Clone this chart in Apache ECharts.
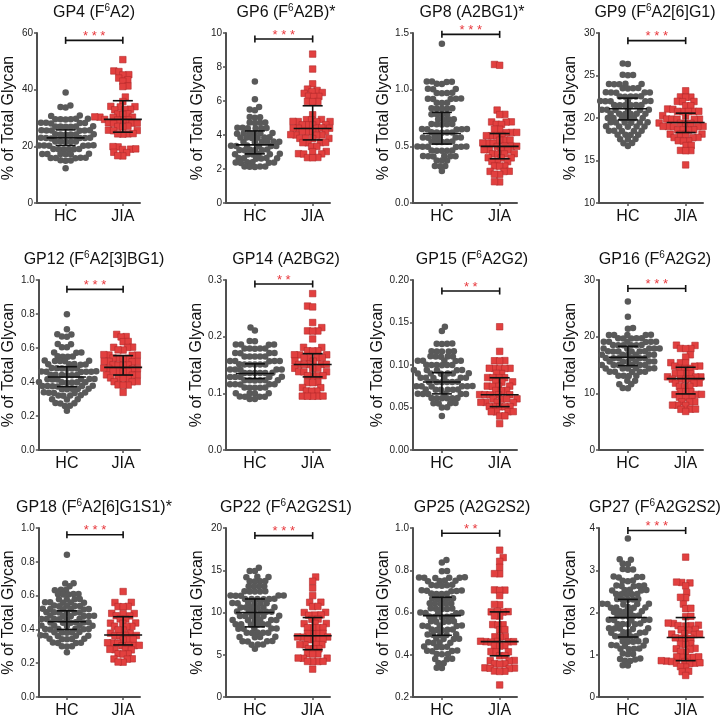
<!DOCTYPE html>
<html>
<head>
<meta charset="utf-8">
<title>Glycan peaks HC vs JIA</title>
<script src="https://cdn.jsdelivr.net/npm/echarts@6/dist/echarts.min.js"></script>
<style>
  html, body { margin: 0; padding: 0; background: #fff; }
  #main { width: 722px; height: 719px; }
</style>
</head>
<body>
<div id="main"></div>
<script>
// panels go left to right, top to bottom; "^6" marks the superscript
var titles = ['GP4 (F^6A2)', 'GP6 (F^6A2B)*', 'GP8 (A2BG1)*', 'GP9 (F^6A2[6]G1)',
  'GP12 (F^6A2[3]BG1)', 'GP14 (A2BG2)', 'GP15 (F^6A2G2)', 'GP16 (F^6A2G2)',
  'GP18 (F^6A2[6]G1S1)*', 'GP22 (F^6A2G2S1)', 'GP25 (A2G2S2)', 'GP27 (F^6A2G2S2)']
var groups = ['HC', 'JIA']
var yName = '% of Total Glycan'

// axis ticks
var yMin = [0, 0, 0, 10, 0, 0, 0, 0, 0, 0, 0.2, 0]
var yMax = [60, 10, 1.5, 30, 1, 0.3, 0.2, 30, 1, 20, 1, 4]
var yStep = [20, 2, 0.5, 5, 0.2, 0.1, 0.05, 10, 0.2, 5, 0.2, 1]
var yDigits = [0, 0, 1, 0, 1, 1, 2, 0, 1, 0, 1, 0]

// significance
var stars = ['***', '***', '***', '***', '***', '**', '**', '***', '***', '***', '**', '***']
var bracketY = [57.4, 9.65, 1.488, 29.1, 0.945, 0.293, 0.187, 28.5, 0.96, 19.1, 0.975, 3.94]

// median and interquartile range
var hcMed = [23.0, 3.42, 0.613, 21.08, 0.429, 0.135, 0.080, 16.35, 0.445, 10.0, 0.585, 1.88]
var hcQ1 = [20.3, 2.89, 0.52, 19.78, 0.373, 0.126, 0.066, 14.9, 0.40, 8.3, 0.492, 1.42]
var hcQ3 = [25.8, 4.24, 0.80, 22.34, 0.49, 0.152, 0.091, 18.3, 0.51, 11.6, 0.672, 2.31]
var jiaMed = [29.5, 4.38, 0.50, 19.47, 0.486, 0.151, 0.065, 12.6, 0.367, 7.25, 0.462, 1.41]
var jiaQ1 = [25.0, 3.71, 0.39, 18.29, 0.441, 0.129, 0.051, 9.9, 0.308, 5.6, 0.395, 0.86]
var jiaQ3 = [36.1, 5.72, 0.613, 20.57, 0.555, 0.17, 0.085, 14.6, 0.475, 9.4, 0.603, 1.88]

// individual samples
var hcGP4 = [39.0, 34.4, 33.9, 33.7, 30.9, 30.7, 29.7, 29.6, 29.6, 29.5, 29.7, 29.6, 28.3, 28.2, 28.1, 28.2, 28.3,
  27.0, 27.1, 26.9, 27.0, 27.0, 26.9, 25.7, 25.6, 25.6, 25.5, 25.7, 25.6, 24.2, 24.3, 24.1, 24.2, 24.2, 24.3,
  22.9, 23.0, 22.8, 22.9, 22.9, 23.0, 21.7, 21.8, 21.6, 21.7, 21.7, 21.6, 20.3, 20.4, 20.2, 20.3, 20.3, 20.2,
  19.0, 19.1, 18.9, 19.0, 19.0, 19.1, 17.3, 17.4, 17.2, 17.3, 17.3, 17.2, 15.9, 16.0, 15.8, 15.9, 16.0,
  15.0, 15.1, 14.9, 12.3]
var jiaGP4 = [50.6, 46.6, 46.4, 45.3, 45.2, 44.1, 43.5, 43.0, 41.3, 41.1, 37.4, 35.8, 34.1, 34.0, 33.9,
  33.1, 33.0, 32.9, 31.5, 31.4, 31.3, 30.3, 30.4, 30.2, 30.3, 30.4, 29.4, 29.5, 29.3, 29.4, 29.5, 29.3,
  28.2, 28.3, 28.1, 28.2, 27.0, 27.1, 26.9, 25.6, 25.7, 25.5, 24.4, 24.5, 24.3, 24.4, 19.8, 19.9,
  19.0, 19.1, 18.9, 17.8, 17.9, 16.6, 16.7]

var hcGP6 = [7.15, 6.1, 5.64, 5.5, 5.46, 5.05, 5.02, 5.06, 4.73, 4.72, 4.74, 4.71,
  4.42, 4.4, 4.41, 4.39, 4.4, 4.42, 4.1, 4.11, 4.09, 4.1, 4.12, 4.08, 3.85, 3.86, 3.84, 3.85, 3.87, 3.83,
  3.6, 3.61, 3.59, 3.6, 3.62, 3.58, 3.36, 3.37, 3.35, 3.36, 3.38, 3.34, 3.12, 3.13, 3.11, 3.12, 3.14, 3.1,
  2.87, 2.88, 2.86, 2.87, 2.89, 2.85, 2.63, 2.64, 2.62, 2.63, 2.65, 2.61, 2.38, 2.39, 2.37, 2.38, 2.4, 2.36,
  2.14, 2.15, 2.13, 2.14, 2.12]
var jiaGP6 = [8.76, 7.88, 7.01, 6.7, 6.62, 6.55, 6.5, 6.45, 6.27, 6.28, 6.26, 5.97, 5.98, 5.96, 5.19,
  4.9, 4.91, 4.89, 4.79, 4.8, 4.78, 4.79, 4.6, 4.61, 4.59, 4.6, 4.4, 4.41, 4.39, 4.4, 4.42,
  4.2, 4.21, 4.19, 4.2, 4.0, 4.01, 3.99, 4.0, 4.02, 3.8, 3.81, 3.79, 3.8, 3.55, 3.56, 3.54, 3.55,
  3.32, 3.33, 3.03, 3.04, 3.02, 2.89, 2.9, 2.88, 2.67, 2.68, 2.66]

var hcGP8 = [1.405, 1.073, 1.07, 1.072, 1.068, 1.053, 1.05, 1.006, 1.004, 1.008, 0.97, 0.972, 0.968, 0.971,
  0.919, 0.92, 0.918, 0.921, 0.917, 0.884, 0.885, 0.883, 0.834, 0.835, 0.833, 0.836, 0.832,
  0.782, 0.783, 0.781, 0.784, 0.738, 0.739, 0.737, 0.74, 0.695, 0.696, 0.694, 0.697, 0.693,
  0.651, 0.652, 0.65, 0.653, 0.649, 0.622, 0.623, 0.621, 0.624, 0.62, 0.578, 0.579, 0.577, 0.58, 0.576, 0.578,
  0.54, 0.541, 0.539, 0.542, 0.538, 0.497, 0.498, 0.496, 0.499, 0.495, 0.497, 0.462, 0.463, 0.461, 0.464, 0.46,
  0.413, 0.414, 0.412, 0.415, 0.411, 0.413, 0.375, 0.376, 0.374, 0.326, 0.327, 0.325, 0.282]
var jiaGP8 = [1.222, 1.215, 0.82, 0.782, 0.78, 0.715, 0.716, 0.714, 0.695, 0.694, 0.651, 0.652,
  0.622, 0.621, 0.623, 0.593, 0.594, 0.592, 0.595, 0.555, 0.556, 0.554, 0.529, 0.53, 0.528, 0.531,
  0.5, 0.501, 0.499, 0.502, 0.468, 0.469, 0.467, 0.47, 0.433, 0.434, 0.432, 0.435, 0.398, 0.399, 0.397,
  0.366, 0.367, 0.365, 0.326, 0.327, 0.325, 0.279, 0.28, 0.278, 0.253, 0.254, 0.186, 0.188]

var hcGP9 = [26.42, 26.35, 25.05, 25.08, 25.02, 23.99, 24.0, 23.98, 24.02, 23.97, 23.5, 23.52, 23.48, 23.51,
  23.0, 23.02, 22.98, 23.01, 22.99, 22.53, 22.55, 22.51, 22.54, 22.52, 21.98, 22.0, 21.96, 21.99, 21.97, 22.01,
  21.51, 21.53, 21.49, 21.52, 21.5, 21.54, 20.96, 20.98, 20.94, 20.97, 20.95, 20.99,
  20.49, 20.51, 20.47, 20.5, 20.48, 20.52, 19.98, 20.0, 19.96, 19.99, 19.97, 20.01,
  19.47, 19.49, 19.45, 19.48, 19.46, 19.5, 19.0, 19.02, 18.98, 19.01, 18.99, 18.49, 18.51, 18.47, 18.5, 18.48,
  18.02, 18.04, 18.0, 18.03, 17.5, 17.52, 17.48, 17.03, 17.05, 16.7]
var jiaGP9 = [23.2, 22.46, 22.48, 22.44, 21.94, 21.96, 21.92, 21.43, 21.45, 21.04, 21.06, 21.02,
  20.77, 20.79, 20.75, 20.78, 20.76, 20.26, 20.28, 20.24, 20.27, 19.86, 19.88, 19.84, 19.87, 19.85,
  19.39, 19.41, 19.37, 19.4, 19.38, 19.0, 19.02, 18.98, 19.01, 18.99, 18.6, 18.62, 18.58, 18.61,
  18.09, 18.11, 18.07, 18.1, 17.7, 17.72, 17.68, 17.31, 17.33, 17.29, 16.76, 16.78, 16.17, 16.19, 16.15, 14.48]

var hcGP12 = [0.798, 0.71, 0.68, 0.681, 0.667, 0.666, 0.622, 0.623, 0.604, 0.605, 0.573, 0.574, 0.572,
  0.549, 0.55, 0.548, 0.551, 0.524, 0.525, 0.523, 0.526, 0.522, 0.504, 0.505, 0.503, 0.506, 0.502,
  0.48, 0.481, 0.479, 0.482, 0.478, 0.48, 0.461, 0.462, 0.46, 0.463, 0.459, 0.461,
  0.441, 0.442, 0.44, 0.443, 0.439, 0.441, 0.416, 0.417, 0.415, 0.418, 0.414, 0.416,
  0.398, 0.399, 0.397, 0.4, 0.396, 0.398, 0.376, 0.377, 0.375, 0.378, 0.374, 0.376,
  0.359, 0.36, 0.358, 0.361, 0.357, 0.337, 0.338, 0.336, 0.339, 0.335, 0.32, 0.321, 0.319, 0.322,
  0.298, 0.299, 0.297, 0.275, 0.276, 0.274, 0.259, 0.26, 0.231]
var jiaGP12 = [0.68, 0.667, 0.665, 0.637, 0.638, 0.604, 0.605, 0.603, 0.588, 0.589,
  0.559, 0.56, 0.558, 0.561, 0.557, 0.539, 0.54, 0.538, 0.541, 0.52, 0.521, 0.519, 0.522,
  0.5, 0.501, 0.499, 0.502, 0.498, 0.48, 0.481, 0.479, 0.482, 0.478, 0.461, 0.462, 0.46, 0.463,
  0.441, 0.442, 0.44, 0.443, 0.422, 0.423, 0.421, 0.424, 0.402, 0.403, 0.401, 0.382, 0.383, 0.381, 0.339]

var hcGP14 = [0.216, 0.211, 0.192, 0.1922, 0.186, 0.1862, 0.1858, 0.1861, 0.179, 0.1792, 0.1788, 0.1791, 0.1789,
  0.171, 0.1712, 0.1708, 0.1711, 0.165, 0.1652, 0.1648, 0.1651, 0.1649, 0.157, 0.1572, 0.1568, 0.1571, 0.1569, 0.157,
  0.151, 0.1512, 0.1508, 0.1511, 0.1509, 0.151, 0.142, 0.1422, 0.1418, 0.1421, 0.1419, 0.142,
  0.136, 0.1362, 0.1358, 0.1361, 0.1359, 0.136, 0.129, 0.1292, 0.1288, 0.1291, 0.1289, 0.129,
  0.123, 0.1232, 0.1228, 0.1231, 0.1229, 0.123, 0.116, 0.1162, 0.1158, 0.1161, 0.1159,
  0.11, 0.1102, 0.1098, 0.1101, 0.1099, 0.1, 0.1002, 0.0998, 0.1001, 0.094, 0.0942, 0.0938, 0.0941, 0.09, 0.0902]
var jiaGP14 = [0.276, 0.254, 0.2525, 0.225, 0.216, 0.21, 0.2102, 0.2098, 0.196, 0.181, 0.1812,
  0.175, 0.1752, 0.1748, 0.168, 0.1682, 0.1678, 0.1681, 0.163, 0.1632, 0.1628, 0.1631,
  0.157, 0.1572, 0.1568, 0.1571, 0.151, 0.1512, 0.1508, 0.1511, 0.1509, 0.144, 0.1442, 0.1438, 0.1441,
  0.138, 0.1382, 0.1378, 0.131, 0.1312, 0.1308, 0.1311, 0.119, 0.1192, 0.1188, 0.11, 0.1102,
  0.104, 0.1042, 0.1038, 0.095, 0.0952, 0.0948, 0.0951, 0.0949]

var hcGP15 = [0.145, 0.14, 0.125, 0.1252, 0.1248, 0.1251, 0.116, 0.1162, 0.1158, 0.1161, 0.1159,
  0.11, 0.1102, 0.1098, 0.1101, 0.1099, 0.105, 0.1052, 0.1048, 0.1051, 0.1049,
  0.1, 0.1002, 0.0998, 0.1001, 0.0999, 0.1, 0.094, 0.0942, 0.0938, 0.0941, 0.0939,
  0.09, 0.0902, 0.0898, 0.0901, 0.0899, 0.09, 0.085, 0.0852, 0.0848, 0.0851, 0.0849, 0.085,
  0.08, 0.0802, 0.0798, 0.0801, 0.0799, 0.08, 0.075, 0.0752, 0.0748, 0.0751, 0.0749, 0.075,
  0.071, 0.0712, 0.0708, 0.0711, 0.0709, 0.071, 0.066, 0.0662, 0.0658, 0.0661, 0.0659, 0.066,
  0.061, 0.0612, 0.0608, 0.0611, 0.0609, 0.061, 0.055, 0.0552, 0.0548, 0.0551, 0.05, 0.0502, 0.04]
var jiaGP15 = [0.145, 0.116, 0.105, 0.1052, 0.1048, 0.096, 0.0962, 0.0958, 0.0961, 0.0959, 0.09, 0.0902,
  0.085, 0.0852, 0.0848, 0.0851, 0.08, 0.0802, 0.0798, 0.075, 0.0752, 0.0748, 0.0751, 0.07, 0.0702, 0.0698,
  0.065, 0.0652, 0.0648, 0.0651, 0.0649, 0.06, 0.0602, 0.0598, 0.0601, 0.056, 0.0562, 0.0558, 0.0561,
  0.051, 0.0512, 0.0508, 0.0511, 0.0509, 0.045, 0.0452, 0.0448, 0.0451, 0.04, 0.0402, 0.031]

var hcGP16 = [26.2, 23.5, 21.55, 21.4, 20.3, 20.32, 20.28, 20.31, 20.29, 19.7, 19.72, 19.68, 19.71, 19.69,
  19.1, 19.12, 19.08, 19.11, 19.09, 19.1, 18.5, 18.52, 18.48, 18.51, 18.49, 18.5,
  17.9, 17.92, 17.88, 17.91, 17.89, 17.9, 17.4, 17.42, 17.38, 17.41, 17.39, 17.4,
  16.8, 16.82, 16.78, 16.81, 16.79, 16.8, 16.2, 16.22, 16.18, 16.21, 16.19, 16.2,
  15.6, 15.62, 15.58, 15.61, 15.59, 15.6, 15.0, 15.02, 14.98, 15.01, 14.99, 15.0,
  14.4, 14.42, 14.38, 14.41, 14.39, 14.4, 13.8, 13.82, 13.78, 13.81, 13.79,
  13.1, 13.12, 13.08, 13.11, 12.2, 12.22, 11.6, 11.62, 10.9, 10.92]
var jiaGP16 = [18.5, 18.45, 17.9, 17.92, 17.88, 16.8, 16.4, 15.4, 15.42, 15.38, 15.41, 14.8, 14.82, 14.78,
  14.4, 14.42, 14.38, 13.5, 13.52, 13.48, 13.51, 12.9, 12.92, 12.88, 12.91, 12.5, 12.52, 12.48, 12.51,
  11.8, 11.82, 11.78, 11.2, 11.22, 11.18, 10.3, 10.32, 10.28, 9.8, 9.82, 9.78, 9.3, 9.32, 9.28,
  8.5, 8.52, 8.48, 7.9, 7.92, 7.88, 7.2, 7.22, 7.18, 6.8]

var hcGP18 = [0.841, 0.671, 0.673, 0.655, 0.633, 0.634, 0.632, 0.608, 0.609, 0.607, 0.61, 0.606,
  0.578, 0.579, 0.577, 0.58, 0.559, 0.56, 0.558, 0.561, 0.557, 0.539, 0.54, 0.538, 0.541, 0.537,
  0.52, 0.521, 0.519, 0.522, 0.518, 0.52, 0.5, 0.501, 0.499, 0.502, 0.498, 0.5,
  0.48, 0.481, 0.479, 0.482, 0.478, 0.48, 0.461, 0.462, 0.46, 0.463, 0.459, 0.461,
  0.441, 0.442, 0.44, 0.443, 0.439, 0.441, 0.422, 0.423, 0.421, 0.424, 0.42, 0.422,
  0.402, 0.403, 0.401, 0.404, 0.4, 0.402, 0.382, 0.383, 0.381, 0.384, 0.38,
  0.363, 0.364, 0.362, 0.365, 0.361, 0.343, 0.344, 0.342, 0.345, 0.341,
  0.32, 0.321, 0.319, 0.322, 0.3, 0.301, 0.299, 0.265]
var jiaGP18 = [0.624, 0.559, 0.56, 0.535, 0.536, 0.534, 0.494, 0.495, 0.493, 0.48, 0.481, 0.461, 0.462,
  0.437, 0.438, 0.436, 0.418, 0.419, 0.417, 0.396, 0.397, 0.378, 0.379, 0.377, 0.363, 0.364, 0.362, 0.365,
  0.339, 0.34, 0.338, 0.32, 0.321, 0.319, 0.304, 0.305, 0.303, 0.306, 0.28, 0.281, 0.279, 0.282,
  0.255, 0.256, 0.254, 0.225, 0.226, 0.224, 0.206, 0.207]

var hcGP22 = [15.3, 14.9, 14.92, 14.2, 14.22, 14.18, 13.7, 13.72, 13.68, 13.71, 13.1, 13.12, 13.08, 13.11,
  12.5, 12.52, 12.48, 12.51, 12.49, 12.0, 12.02, 11.98, 12.01, 11.99, 12.0,
  11.6, 11.62, 11.58, 11.61, 11.59, 11.6, 11.1, 11.12, 11.08, 11.11, 11.09, 11.1,
  10.6, 10.62, 10.58, 10.61, 10.59, 10.6, 10.1, 10.12, 10.08, 10.11, 10.09, 10.1,
  9.6, 9.62, 9.58, 9.61, 9.59, 9.6, 9.1, 9.12, 9.08, 9.11, 9.09, 9.1, 8.6, 8.62, 8.58, 8.61, 8.59, 8.6,
  8.1, 8.12, 8.08, 8.11, 8.09, 7.6, 7.62, 7.58, 7.61, 7.59, 7.1, 7.12, 7.08, 7.11,
  6.6, 6.62, 6.58, 6.61, 6.2, 6.22, 6.18, 5.7]
var jiaGP22 = [14.2, 13.7, 12.9, 12.0, 11.2, 11.22, 10.7, 10.72, 10.0, 10.02, 9.7, 9.72, 9.68, 9.2, 9.22,
  8.7, 8.72, 8.68, 8.2, 8.22, 8.18, 8.21, 7.5, 7.52, 7.48, 7.51, 7.1, 7.12, 7.08, 7.11,
  6.8, 6.82, 6.78, 6.81, 6.2, 6.22, 6.18, 6.21, 5.7, 5.72, 5.68, 5.1, 5.12, 5.08,
  4.6, 4.62, 4.58, 4.61, 4.2, 4.22, 4.18, 4.21, 3.3]

var hcGP25 = [0.849, 0.837, 0.795, 0.796, 0.765, 0.766, 0.764, 0.767, 0.763, 0.765, 0.749, 0.75, 0.748, 0.751,
  0.729, 0.73, 0.728, 0.731, 0.727, 0.703, 0.704, 0.702, 0.705, 0.701, 0.688, 0.689, 0.687, 0.69,
  0.665, 0.666, 0.664, 0.667, 0.663, 0.642, 0.643, 0.641, 0.644, 0.64, 0.618, 0.619, 0.617, 0.62, 0.616,
  0.598, 0.599, 0.597, 0.6, 0.596, 0.58, 0.581, 0.579, 0.582, 0.578, 0.557, 0.558, 0.556, 0.559, 0.555,
  0.537, 0.538, 0.536, 0.539, 0.535, 0.518, 0.519, 0.517, 0.52, 0.516, 0.495, 0.496, 0.494, 0.497, 0.493,
  0.475, 0.476, 0.474, 0.477, 0.457, 0.458, 0.456, 0.459, 0.437, 0.438, 0.436, 0.439,
  0.418, 0.419, 0.417, 0.42, 0.403, 0.404, 0.402, 0.38, 0.381, 0.379, 0.36, 0.361, 0.337, 0.338]
var jiaGP25 = [0.895, 0.86, 0.842, 0.814, 0.783, 0.784, 0.706, 0.707, 0.705, 0.68, 0.637, 0.638,
  0.603, 0.604, 0.602, 0.605, 0.583, 0.584, 0.542, 0.543, 0.541, 0.518, 0.519, 0.485, 0.486, 0.484,
  0.462, 0.463, 0.461, 0.464, 0.46, 0.462, 0.463, 0.442, 0.443, 0.441, 0.414, 0.415, 0.413, 0.395, 0.396,
  0.372, 0.373, 0.371, 0.357, 0.358, 0.356, 0.337, 0.338, 0.336, 0.339, 0.335, 0.322, 0.323, 0.321, 0.257]

var hcGP27 = [3.75, 3.25, 3.26, 3.16, 3.15, 3.02, 3.03, 3.01, 2.84, 2.85, 2.83, 2.84, 2.75, 2.76, 2.74,
  2.63, 2.64, 2.62, 2.63, 2.64, 2.53, 2.54, 2.52, 2.53, 2.52, 2.43, 2.44, 2.42, 2.43, 2.44,
  2.31, 2.32, 2.3, 2.31, 2.32, 2.2, 2.21, 2.19, 2.2, 2.21, 2.12, 2.13, 2.11, 2.12, 2.11,
  2.02, 2.03, 2.01, 2.02, 2.03, 1.92, 1.93, 1.91, 1.92, 1.91, 1.82, 1.83, 1.81, 1.82, 1.83,
  1.73, 1.74, 1.72, 1.73, 1.72, 1.62, 1.63, 1.61, 1.62, 1.63, 1.53, 1.54, 1.52, 1.53, 1.52,
  1.43, 1.44, 1.42, 1.43, 1.44, 1.32, 1.33, 1.31, 1.32, 1.31, 1.22, 1.23, 1.21, 1.22,
  1.14, 1.15, 1.13, 1.14, 1.02, 1.03, 1.01, 0.9, 0.91, 0.89, 0.86, 0.855, 0.745, 0.75]
var jiaGP27 = [3.31, 2.71, 2.72, 2.7, 2.63, 2.47, 2.35, 2.36, 2.2, 2.09, 2.1, 1.9, 1.91,
  1.75, 1.76, 1.74, 1.75, 1.69, 1.7, 1.68, 1.69, 1.59, 1.6, 1.58, 1.49, 1.5, 1.48, 1.49,
  1.39, 1.4, 1.38, 1.39, 1.25, 1.26, 1.24, 1.14, 1.15, 1.13, 1.06, 1.07,
  0.94, 0.95, 0.93, 0.94, 0.95, 0.85, 0.86, 0.84, 0.85, 0.86, 0.84, 0.8, 0.81, 0.79, 0.8,
  0.71, 0.72, 0.6, 0.61, 0.51]

var hcValues = [hcGP4, hcGP6, hcGP8, hcGP9, hcGP12, hcGP14, hcGP15, hcGP16, hcGP18, hcGP22, hcGP25, hcGP27]
var jiaValues = [jiaGP4, jiaGP6, jiaGP8, jiaGP9, jiaGP12, jiaGP14, jiaGP15, jiaGP16, jiaGP18, jiaGP22, jiaGP25, jiaGP27]

// layout
var FONT = "'Liberation Sans', Arial, Helvetica, sans-serif"
var colLeft = [36, 226, 413, 599]
var rowTop = [33, 280, 528]
var titleX = [94, 286, 472, 655]
var GRID_W = 104
var GRID_H = 170
var X_MIN = -0.5
var X_MAX = 1.3
var PX_PER_X = GRID_W / (X_MAX - X_MIN)
var DOT = 6.5
var SWARM_D = 5.2 // dots may overlap a little, as in the original
var MED_HALF = 19
var CAP_HALF = 10
var AXIS_COLOR = '#505050'

// beeswarm: each dot goes as close to the centre line as it can without
// coming nearer than SWARM_D to a dot already placed
function swarm(values, group, pxPerVal) {
  var order = values.map(function (v, k) { return k })
    .sort(function (a, b) { return values[a] - values[b] })
  var placed = []
  var pts = new Array(values.length)
  var d2 = SWARM_D * SWARM_D
  order.forEach(function (k, n) {
    var py = values[k] * pxPerVal
    var near = placed.filter(function (p) { return Math.abs(p.y - py) < SWARM_D })
    var cands = [0]
    near.forEach(function (p) {
      var dx = Math.sqrt(d2 - (p.y - py) * (p.y - py))
      cands.push(p.x + dx, p.x - dx)
    })
    var side = n % 2 ? 1 : -1
    cands.sort(function (a, b) {
      var d = Math.abs(a) - Math.abs(b)
      return Math.abs(d) > 0.01 ? d : (a - b) * side
    })
    var x = 0
    for (var c = 0; c < cands.length; c++) {
      var ok = near.every(function (p) {
        var ex = p.x - cands[c]
        var ey = p.y - py
        return ex * ex + ey * ey >= d2 - 0.01
      })
      if (ok) { x = cands[c]; break }
    }
    placed.push({ x: x, y: py })
    pts[k] = [group + x / PX_PER_X, values[k]]
  })
  return pts
}

function titleRich(t) {
  return '{t|' + t.replace(/\^(\d)/g, '}{s|$1}{t|') + '}'
}

function lineEl(x1, y1, x2, y2) {
  return {
    type: 'line',
    shape: { x1: x1, y1: y1, x2: x2, y2: y2 },
    style: { stroke: '#111', lineWidth: 1.6 }
  }
}

function errorBarItem(params, api) {
  var x = api.value(0)
  var pm = api.coord([x, api.value(1)])
  var pl = api.coord([x, api.value(2)])
  var ph = api.coord([x, api.value(3)])
  return {
    type: 'group',
    children: [
      lineEl(pm[0] - MED_HALF, pm[1], pm[0] + MED_HALF, pm[1]),
      lineEl(pl[0], pl[1], ph[0], ph[1]),
      lineEl(pl[0] - CAP_HALF, pl[1], pl[0] + CAP_HALF, pl[1]),
      lineEl(ph[0] - CAP_HALF, ph[1], ph[0] + CAP_HALF, ph[1])
    ]
  }
}

function bracketItem(mark) {
  return function (params, api) {
    var p0 = api.coord([api.value(0), api.value(2)])
    var p1 = api.coord([api.value(1), api.value(2)])
    return {
      type: 'group',
      children: [
        lineEl(p0[0], p0[1], p1[0], p1[1]),
        lineEl(p0[0], p0[1] - 3.5, p0[0], p0[1] + 3.5),
        lineEl(p1[0], p1[1] - 3.5, p1[0], p1[1] + 3.5),
        {
          type: 'text',
          x: (p0[0] + p1[0]) / 2,
          y: p0[1] - 4,
          style: {
            text: mark.split('').join(' '),
            fill: '#e8383d',
            font: '13px ' + FONT,
            align: 'center',
            verticalAlign: 'middle',
            textAlign: 'center',
            textVerticalAlign: 'middle'
          }
        }
      ]
    }
  }
}

var grids = []
var xAxes = []
var yAxes = []
var titleList = []
var series = []

titles.forEach(function (name, i) {
  var r = Math.floor(i / 4)
  var c = i % 4
  var pxPerVal = GRID_H / (yMax[i] - yMin[i])

  grids.push({ left: colLeft[c], top: rowTop[r], width: GRID_W, height: GRID_H })

  titleList.push({
    text: titleRich(name),
    left: titleX[c],
    top: rowTop[r] - 30,
    textAlign: 'center',
    padding: 0,
    textStyle: {
      rich: {
        t: { fontSize: 16, fontWeight: 'normal', fontFamily: FONT, color: '#111', lineHeight: 20 },
        s: { fontSize: 10, fontWeight: 'normal', fontFamily: FONT, color: '#111', lineHeight: 10, verticalAlign: 'top' }
      }
    }
  })

  xAxes.push({
    gridIndex: i,
    type: 'value',
    min: X_MIN,
    max: X_MAX,
    axisLine: { show: true, onZero: false, lineStyle: { color: AXIS_COLOR, width: 2 } },
    axisTick: { show: true, customValues: [0, 1], length: 3, lineStyle: { color: AXIS_COLOR, width: 1.5 } },
    axisLabel: {
      customValues: [0, 1],
      formatter: function (v) { return groups[Math.round(v)] },
      fontSize: 16, fontFamily: FONT, color: '#111', margin: 6
    },
    splitLine: { show: false }
  })

  yAxes.push({
    gridIndex: i,
    type: 'value',
    min: yMin[i],
    max: yMax[i],
    interval: yStep[i],
    name: yName,
    nameLocation: 'middle',
    nameGap: 20,
    nameTextStyle: { fontSize: 16, fontFamily: FONT, color: '#111' },
    axisLine: { show: true, onZero: false, lineStyle: { color: AXIS_COLOR, width: 2 } },
    axisTick: { show: true, length: 3, lineStyle: { color: AXIS_COLOR, width: 1.5 } },
    axisLabel: {
      formatter: function (v) { return v.toFixed(yDigits[i]) },
      fontSize: 10, fontFamily: FONT, color: '#222', margin: 4
    },
    splitLine: { show: false }
  })

  series.push({
    type: 'scatter',
    xAxisIndex: i,
    yAxisIndex: i,
    symbol: 'circle',
    symbolSize: DOT,
    itemStyle: { color: '#595959', opacity: 1 },
    data: swarm(hcValues[i], 0, pxPerVal),
    silent: true,
    z: 2
  })
  series.push({
    type: 'scatter',
    xAxisIndex: i,
    yAxisIndex: i,
    symbol: 'rect',
    symbolSize: DOT,
    itemStyle: { color: '#e2403f', borderColor: '#b32a2c', borderWidth: 0.6, opacity: 1 },
    data: swarm(jiaValues[i], 1, pxPerVal),
    silent: true,
    z: 2
  })
  series.push({
    type: 'custom',
    xAxisIndex: i,
    yAxisIndex: i,
    renderItem: errorBarItem,
    encode: { x: 0, y: 1 },
    data: [[0, hcMed[i], hcQ1[i], hcQ3[i]], [1, jiaMed[i], jiaQ1[i], jiaQ3[i]]],
    silent: true,
    z: 3
  })
  series.push({
    type: 'custom',
    xAxisIndex: i,
    yAxisIndex: i,
    renderItem: bracketItem(stars[i]),
    encode: { x: [0, 1], y: 2 },
    data: [[0, 1, bracketY[i]]],
    silent: true,
    clip: false,
    z: 3
  })
})

var chart = echarts.init(document.getElementById('main'))
chart.setOption({
  backgroundColor: '#fff',
  animation: false,
  title: titleList,
  grid: grids,
  xAxis: xAxes,
  yAxis: yAxes,
  series: series
})
</script>
</body>
</html>
